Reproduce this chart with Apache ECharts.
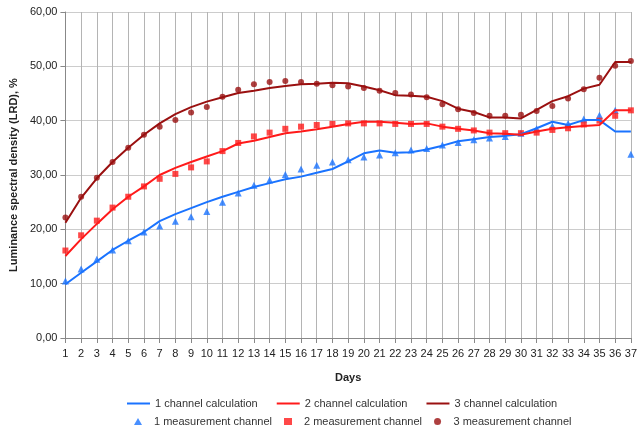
<!DOCTYPE html>
<html style="height: 100%">
<head>
<meta charset="utf-8">
<script src="https://cdn.jsdelivr.net/npm/echarts@6/dist/echarts.min.js"></script>
</head>
<body style="height: 100%; margin: 0">
<div id="container" style="width:640px;height:430px"></div>
<script type="text/javascript">
var days = [];
for (var d = 1; d <= 37; d++) days.push(String(d));

// calculated curves
var calc1 = [9.9, 12.0, 14.1, 16.2, 17.9, 19.5, 21.5, 22.8, 23.9, 25.0, 26.0, 26.9, 27.8, 28.5, 29.2, 29.7, 30.4, 31.1, 32.5, 34.0, 34.5, 34.1, 34.2, 34.7, 35.4, 36.2, 36.6, 37.0, 37.2, 37.5, 38.6, 39.8, 39.2, 40.1, 40.1, 38.0, 38.0];
var calc2 = [15.1, 18.2, 21.0, 23.7, 26.0, 27.9, 30.0, 31.3, 32.4, 33.4, 34.4, 35.8, 36.3, 37.0, 37.7, 38.0, 38.4, 38.9, 39.4, 39.8, 39.8, 39.6, 39.4, 39.5, 38.9, 38.5, 38.2, 37.7, 37.6, 37.4, 38.0, 38.5, 38.8, 39.0, 39.2, 41.9, 41.9];
var calc3 = [21.2, 25.8, 29.4, 32.4, 35.0, 37.4, 39.5, 41.2, 42.5, 43.5, 44.3, 45.1, 45.5, 46.0, 46.4, 46.7, 46.8, 47.0, 46.9, 46.3, 45.6, 44.7, 44.6, 44.4, 43.6, 42.2, 41.6, 40.6, 40.6, 40.4, 42.0, 43.6, 44.5, 45.9, 46.6, 50.8, 50.8];

// measurements
var meas1 = [10.5, 12.7, 14.5, 16.2, 17.9, 19.5, 20.6, 21.5, 22.3, 23.3, 25.0, 26.7, 28.1, 29.1, 30.1, 31.1, 31.8, 32.4, 32.8, 33.3, 33.7, 34.1, 34.6, 34.9, 35.5, 36.0, 36.5, 36.8, 37.1, 37.7, 38.5, 39.0, 39.5, 40.3, 41.0, 41.9, 33.8];
var meas2 = [16.1, 18.9, 21.6, 24.0, 26.0, 27.9, 29.3, 30.2, 31.4, 32.5, 34.4, 35.9, 37.1, 37.8, 38.5, 38.9, 39.2, 39.4, 39.5, 39.5, 39.5, 39.4, 39.4, 39.4, 38.9, 38.5, 38.2, 37.8, 37.7, 37.7, 37.8, 38.3, 38.6, 39.3, 40.0, 40.9, 41.9];
var meas3 = [22.2, 26.0, 29.5, 32.4, 35.0, 37.4, 38.9, 40.1, 41.5, 42.5, 44.4, 45.7, 46.7, 47.1, 47.3, 47.1, 46.8, 46.5, 46.3, 46.0, 45.5, 45.1, 44.8, 44.3, 43.0, 42.1, 41.4, 40.9, 40.9, 41.1, 41.8, 42.7, 44.1, 45.8, 47.9, 50.1, 51.0];

var yTicks = { min: 0, max: 60, interval: 10 };

var blue = '#1a73ff', red = '#ff1a1a', dark = '#9a1010';
var font = 'Liberation Sans, Arial, sans-serif';

var chart = echarts.init(document.getElementById('container'));
chart.setOption({
    animation: false,
    textStyle: { fontFamily: font },
    grid: { left: 61, right: 6, top: 12, bottom: 92 },
    legend: [{
        data: ['1 channel calculation', '2 channel calculation', '3 channel calculation'],
        left: 127, top: 398, padding: 0, icon: 'rect', itemWidth: 23, itemHeight: 2, itemGap: 19,
        textStyle: { fontSize: 11, color: '#333' }
    }, {
        data: ['1 measurement channel', '2 measurement channel', '3 measurement channel'],
        left: 134, top: 416, padding: 0, itemWidth: 8, itemHeight: 7, itemGap: 12,
        textStyle: { fontSize: 11, color: '#333', padding: [0, 0, 0, 7] }
    }],
    xAxis: {
        type: 'category',
        data: days,
        boundaryGap: false,
        name: 'Days',
        nameLocation: 'middle',
        nameGap: 34,
        nameTextStyle: { fontSize: 11, fontWeight: 'bold', color: '#222' },
        axisLine: { lineStyle: { color: '#888' } },
        axisTick: { interval: 0, length: 5, lineStyle: { color: '#888' } },
        axisLabel: { interval: 0, fontSize: 11, color: '#222', margin: 10 },
        splitLine: { show: true, interval: 0, lineStyle: { color: '#b4b4b4' } }
    },
    yAxis: {
        type: 'value',
        min: yTicks.min, max: yTicks.max, interval: yTicks.interval,
        name: 'Luminance spectral density (LRD), %',
        nameLocation: 'middle',
        nameGap: 45,
        nameTextStyle: { fontSize: 11, fontWeight: 'bold', color: '#222' },
        axisLine: { show: true, lineStyle: { color: '#888' } },
        axisTick: { show: true, length: 5, lineStyle: { color: '#888' } },
        axisLabel: {
            fontSize: 11, color: '#222', margin: 8,
            formatter: function (v) { return v.toFixed(2).replace('.', ','); }
        },
        splitLine: { lineStyle: { color: '#ccc' } }
    },
    series: [
        { name: '1 channel calculation', type: 'line', data: calc1, symbol: 'none', lineStyle: { color: blue, width: 2 }, itemStyle: { color: blue } },
        { name: '2 channel calculation', type: 'line', data: calc2, symbol: 'none', lineStyle: { color: red, width: 2 }, itemStyle: { color: red } },
        { name: '3 channel calculation', type: 'line', data: calc3, symbol: 'none', lineStyle: { color: dark, width: 2 }, itemStyle: { color: dark } },
        { name: '1 measurement channel', type: 'scatter', data: meas1, symbol: 'triangle', symbolSize: 7, itemStyle: { color: blue } },
        { name: '2 measurement channel', type: 'scatter', data: meas2, symbol: 'rect', symbolSize: 6, itemStyle: { color: red } },
        { name: '3 measurement channel', type: 'scatter', data: meas3, symbol: 'circle', symbolSize: 6, itemStyle: { color: dark } }
    ]
});
</script>
</body>
</html>
